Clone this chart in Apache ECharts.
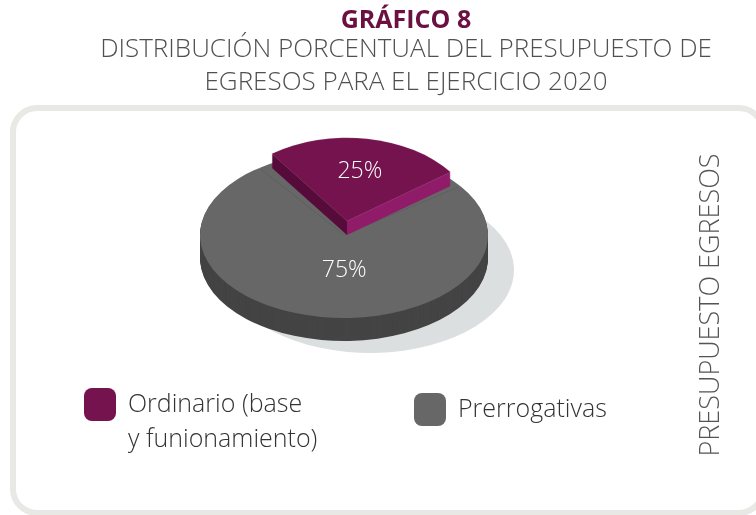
<!DOCTYPE html>
<html>
<head>
<meta charset="utf-8">
<script src="https://cdn.jsdelivr.net/npm/echarts@6/dist/echarts.min.js"></script>
<style>
  html, body { margin: 0; padding: 0; background: #fff; }
  #wrap { position: relative; width: 756px; height: 515px; overflow: hidden; }
  /* pie layers are squashed vertically to get the tilted (elliptical) look */
  .layer { position: absolute; left: 0; top: 0; width: 756px; height: 515px; transform-origin: 0 235px; }
  #pie { transform: scaleY(0.576); }
  #slice { transform: scaleY(0.65); }
</style>
</head>
<body>
<div id="wrap">
  <div id="pie" class="layer"></div>
  <div id="slice" class="layer"></div>
  <div id="main" class="layer"></div>
</div>
<script>
const categories = ['Ordinario (base y funionamiento)', 'Prerrogativas'];
const shares = [25, 75];

const FONT = "'Open Sans', 'Noto Sans', sans-serif";
const PIE_X = 344, PIE_Y = 235, START = 126;
const BASE_R = 144, BASE_TILT = 0.576, SIDE_DEPTH = 23;
const SLICE_R = 128, SLICE_TILT = 0.65, SLICE_RAISE = 14;

// side band colour of the lifted slice: dark on the left face, bright on the right face
function sliceSideColor() {
  const total = shares.reduce((a, b) => a + b, 0);
  const a0 = START, a1 = START - 360 * shares[0] / total;
  let minX = 0, maxX = 0;
  for (let a = a1; a <= a0; a += 0.5) {
    const c = Math.cos(a * Math.PI / 180);
    minX = Math.min(minX, c); maxX = Math.max(maxX, c);
  }
  const stop = -minX / (maxX - minX);
  return {
    type: 'linear', x: 0, y: 0, x2: 1, y2: 0,
    colorStops: [
      { offset: 0, color: '#570b3a' }, { offset: stop, color: '#570b3a' },
      { offset: stop, color: '#8f1b69' }, { offset: 1, color: '#8f1b69' }
    ]
  };
}

function layer(cx, dy, tilt, r, colors, border) {
  return {
    type: 'pie',
    silent: true,
    center: [cx, PIE_Y + dy / tilt],
    radius: r,
    startAngle: START,
    label: { show: false },
    labelLine: { show: false },
    emphasis: { disabled: true },
    itemStyle: { borderWidth: 0 },
    data: shares.map((v, i) => ({
      value: v, name: categories[i],
      itemStyle: Object.assign({ color: colors[i] }, border && i === 0 ? border : {})
    }))
  };
}

// big pie with its shadow
const baseSeries = [];
baseSeries.push(layer(PIE_X + 26, SIDE_DEPTH + 12, BASE_TILT, BASE_R, ['#dcdfe0', '#dcdfe0']));
for (let d = SIDE_DEPTH; d > 0; d--) {
  baseSeries.push(layer(PIE_X, d, BASE_TILT, BASE_R, ['#444444', '#444444']));
}
baseSeries.push(layer(PIE_X, 0, BASE_TILT, BASE_R, ['#676767', '#676767']));

// lifted slice
const sliceSeries = [];
const sideCol = sliceSideColor();
for (let d = 0; d > -SLICE_RAISE; d--) {
  sliceSeries.push(layer(PIE_X + 3, d, SLICE_TILT, SLICE_R, [sideCol, 'transparent']));
}
sliceSeries.push(layer(PIE_X + 3, -SLICE_RAISE, SLICE_TILT, SLICE_R, ['#74134d', 'transparent'],
  { borderWidth: 0.6, borderColor: 'rgba(255,255,255,0.25)' }));

const pie = echarts.init(document.getElementById('pie'), null, { renderer: 'svg' });
pie.setOption({ animation: false, series: baseSeries });
const slice = echarts.init(document.getElementById('slice'), null, { renderer: 'svg' });
slice.setOption({ animation: false, series: sliceSeries });

const main = echarts.init(document.getElementById('main'));
main.setOption({
  animation: false,
  graphic: [
    {
      type: 'rect', silent: true, z: -1,
      shape: { x: 13, y: 108, width: 750, height: 405, r: 24 },
      style: { fill: 'none', stroke: '#e8e8e4', lineWidth: 6 }
    },
    {
      type: 'text', x: 406, y: 21,
      style: { text: 'GRÁFICO 8', fill: '#6b1040', fontSize: 25, fontWeight: 'bold',
               fontFamily: FONT, align: 'center', verticalAlign: 'middle' }
    },
    {
      type: 'text', x: 406, y: 50,
      style: { text: 'DISTRIBUCIÓN PORCENTUAL DEL PRESUPUESTO DE', fill: '#505050', fontSize: 26,
               fontWeight: 300, fontFamily: FONT, align: 'center', verticalAlign: 'middle' }
    },
    {
      type: 'text', x: 406, y: 83,
      style: { text: 'EGRESOS PARA EL EJERCICIO 2020', fill: '#505050', fontSize: 26,
               fontWeight: 300, fontFamily: FONT, align: 'center', verticalAlign: 'middle' }
    },
    {
      type: 'text', x: 711, y: 305, rotation: Math.PI / 2,
      style: { text: 'PRESUPUESTO EGRESOS', fill: '#555', fontSize: 27, fontWeight: 300,
               fontFamily: FONT, align: 'center', verticalAlign: 'middle' }
    }
  ],
  legend: [
    {
      data: [{ name: categories[0], itemStyle: { color: '#74134d' } }],
      left: 84, top: 352, padding: 0,
      itemWidth: 32, itemHeight: 33, icon: 'roundRect', selectedMode: false,
      // empty first line keeps the first text line level with the icon
      formatter: n => '\n' + n.replace('(base ', '(base\n'),
      textStyle: { fontFamily: FONT, fontWeight: 300, fontSize: 25, color: '#333',
                   lineHeight: 35, padding: [0, 0, 0, 7] }
    },
    {
      data: [{ name: categories[1], itemStyle: { color: '#676767' } }],
      left: 414, top: 393, padding: 0,
      itemWidth: 32, itemHeight: 33, icon: 'roundRect', selectedMode: false,
      textStyle: { fontFamily: FONT, fontWeight: 300, fontSize: 25, color: '#333',
                   lineHeight: 30, padding: [0, 0, 0, 7] }
    }
  ],
  series: [
    {
      // carries the legend entries and the percentage labels over the tilted pie
      type: 'pie',
      silent: true,
      center: [352, 221],
      radius: [0, 94],
      startAngle: START,
      itemStyle: { color: 'transparent', borderWidth: 0 },
      label: { show: true, position: 'inside', formatter: '{d}%', color: '#fff',
               fontSize: 23, fontWeight: 300, fontFamily: FONT },
      labelLine: { show: false },
      emphasis: { disabled: true },
      data: categories.map((n, i) => ({ name: n, value: shares[i] }))
    }
  ]
});
</script>
</body>
</html>
